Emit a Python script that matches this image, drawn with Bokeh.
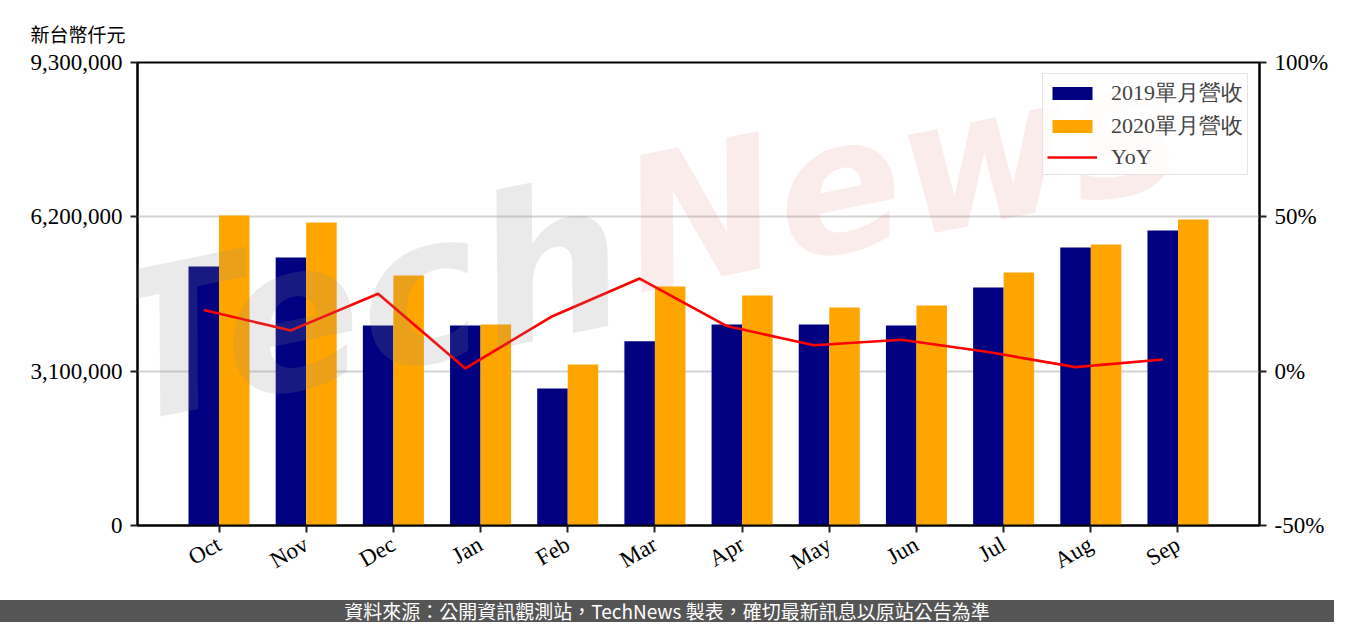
import numpy as np
from bokeh.plotting import figure
from bokeh.models import (Range1d, LinearAxis, FixedTicker, Legend, LegendItem, Label,
                          PrintfTickFormatter, NumeralTickFormatter, ColumnDataSource, Div)
from bokeh.layouts import column
from bokeh.embed import file_html
from bokeh.resources import INLINE

# ---------------- data ----------------
months = ["Oct", "Nov", "Dec", "Jan", "Feb", "Mar", "Apr", "May", "Jun", "Jul", "Aug", "Sep"]
rev_2019 = [5202000, 5383000, 4017000, 4017000, 2752000, 3702000,
            4037000, 4037000, 4017000, 4781000, 5584000, 5925000]
rev_2020 = [6227000, 6086000, 5022000, 4037000, 3234000, 4801000,
            4620000, 4379000, 4419000, 5082000, 5644000, 6147000]
yoy_pct = [19.8, 13.2, 25.1, 0.9, 17.8, 30.0, 14.6, 8.4, 10.2, 6.2, 1.3, 3.8]
left_ticks = [0, 3100000, 6200000, 9300000]
right_ticks = [-50, 0, 50, 100]
series_names = ["2019單月營收", "2020單月營收", "YoY"]
unit_text = "新台幣仟元"
footer_text = "資料來源：公開資訊觀測站，TechNews 製表，確切最新訊息以原站公告為準"

NAVY = "#000080"
ORANGE = "#FFA500"
RED = "#FF0000"
SERIF = "Liberation Serif"
BW = 0.35

idx = np.arange(len(months))
src = ColumnDataSource(dict(
    x19=idx - BW / 2, x20=idx + BW / 2,
    r19=rev_2019, r20=rev_2020, yoy=yoy_pct,
))

x_lo, x_hi = -0.935, len(months) - 1 + 0.935
p = figure(width=1334, height=600,
           x_range=Range1d(x_lo, x_hi),
           y_range=Range1d(left_ticks[0], left_ticks[-1]),
           toolbar_location=None, output_backend="svg",
           min_border_left=137, min_border_right=75,
           min_border_top=62, min_border_bottom=75,
           background_fill_color="white", border_fill_color="white")
p.extra_y_ranges = {"yoy": Range1d(right_ticks[0], right_ticks[-1])}

p.title.text = unit_text
p.title.align = "left"
p.title.offset = -107
p.title.standoff = 32
p.title.text_font = "Noto Sans CJK TC"
p.title.text_font_size = "19px"
p.title.text_font_style = "normal"
p.title.text_color = "black"

p.outline_line_color = "black"
p.outline_line_width = 2
p.xgrid.visible = False
p.ygrid.ticker = FixedTicker(ticks=left_ticks)
p.ygrid.grid_line_color = "#d3d3d3"
p.ygrid.grid_line_width = 2

# left axis
ya = p.yaxis[0]
ya.ticker = FixedTicker(ticks=left_ticks)
ya.formatter = NumeralTickFormatter(format="0,0")
# bottom axis
xa = p.xaxis[0]
xa.ticker = FixedTicker(ticks=list(idx))
xa.major_label_overrides = {int(i): m for i, m in zip(idx, months)}
xa.major_label_orientation = np.pi / 6
# right axis
ra = LinearAxis(y_range_name="yoy", ticker=FixedTicker(ticks=right_ticks),
                formatter=PrintfTickFormatter(format="%d%%"))
p.add_layout(ra, "right")

for ax in (ya, xa, ra):
    ax.axis_line_color = "black"
    ax.axis_line_width = 2
    ax.major_tick_in = 0
    ax.major_tick_out = 7
    ax.major_tick_line_width = 2
    ax.major_tick_line_color = "#222222"
    ax.minor_tick_line_color = None
    ax.major_label_text_font = SERIF
    ax.major_label_text_font_size = "23px"
    ax.major_label_text_color = "black"
    ax.major_label_standoff = 8
xa.major_label_standoff = 10

b19 = p.vbar(x="x19", top="r19", width=BW, source=src, fill_color=NAVY, line_color=None)
b20 = p.vbar(x="x20", top="r20", width=BW, source=src, fill_color=ORANGE, line_color=None)
ln = p.line(x="x19", y="yoy", source=src, y_range_name="yoy", line_color=RED, line_width=2.6)

# watermark
wm1 = Label(x=-0.97, y=1.1e6, text="Tech", angle=0.2, text_font="DejaVu Sans",
            text_font_style="bold italic", text_font_size="205px",
            text_color="#8c8c8c", text_alpha=0.18, level="overlay")
wm2 = Label(x=4.9, y=3.8e6, text="News", angle=0.2, text_font="DejaVu Sans",
            text_font_style="bold italic", text_font_size="185px",
            text_color="#d9534f", text_alpha=0.11, level="overlay")
p.add_layout(wm1)
p.add_layout(wm2)

legend = Legend(items=[LegendItem(label=series_names[0], renderers=[b19]),
                       LegendItem(label=series_names[1], renderers=[b20]),
                       LegendItem(label=series_names[2], renderers=[ln])],
                location="top_right")
legend.border_line_color = "#cccccc"
legend.border_line_width = 1.5
legend.background_fill_alpha = 0.85
legend.label_text_font = SERIF
legend.label_text_font_size = "22px"
legend.glyph_width = 50
legend.glyph_height = 16
legend.label_height = 20
legend.label_standoff = 14
legend.spacing = 3
legend.padding = 4
legend.margin = 11
p.add_layout(legend)

# footer band
footer = Div(text=footer_text, width=1334, height=22, margin=(0, 0, 0, 0),
             styles={"background-color": "#555555", "color": "white",
                     "font-family": "'Noto Sans CJK TC', sans-serif", "font-size": "19px",
                     "text-align": "center", "line-height": "22px",
                     "width": "1334px", "height": "22px", "overflow": "visible"})

layout = column(p, footer, spacing=0)
open("out.html", "w").write(file_html(layout, INLINE))
